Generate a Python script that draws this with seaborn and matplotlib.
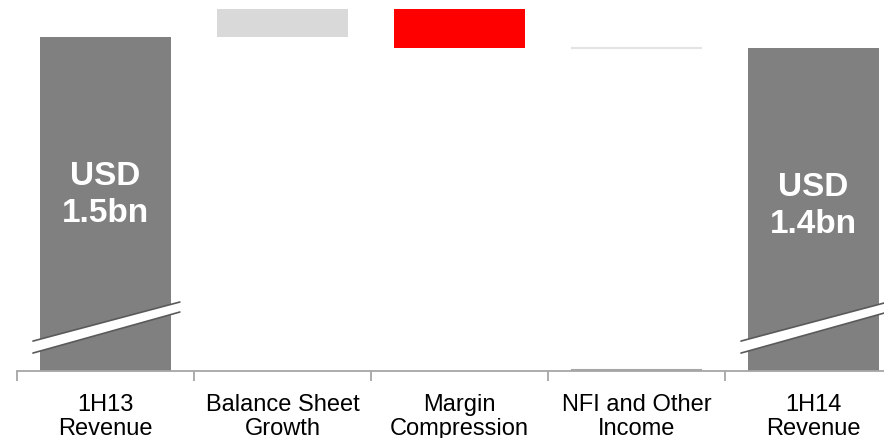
import numpy as np
import pandas as pd
import matplotlib
matplotlib.use("Agg")
import matplotlib.pyplot as plt
import seaborn as sns

# Waterfall data (USD bn)
categories = ["1H13\nRevenue", "Balance Sheet\nGrowth", "Margin\nCompression",
              "NFI and Other\nIncome", "1H14\nRevenue"]
start_total = 1.5
changes = [0.25, -0.35, 0.0]
end_total = 1.4
total_labels = ["USD\n1.5bn", "USD\n1.4bn"]
colors = ["#808080", "#D9D9D9", "#FF0000", "#E3E3E3", "#808080"]

# axis is broken: totals are drawn from this floor
floor = -1.536
top = 1.845

# build bar table
bottoms, heights = [], []
bottoms.append(floor); heights.append(start_total - floor)
level = start_total
for c in changes:
    bottoms.append(min(level, level + c))
    heights.append(abs(c))
    level += c
bottoms.append(floor); heights.append(end_total - floor)
df = pd.DataFrame({"category": categories, "bottom": bottoms,
                   "height": heights, "color": colors})

sns.set_theme(style="white")
plt.rcParams["font.family"] = ["Liberation Sans", "DejaVu Sans"]

fig = plt.figure(figsize=(8.84, 4.39), dpi=100)
ax = fig.add_axes([17 / 884, 67 / 439, 867 / 884, 372 / 439])

x = np.arange(len(df))
width = 0.74
ax.bar(x, df["height"], bottom=df["bottom"], width=width,
       color=df["color"], linewidth=0, zorder=2)

# zero-height NFI bar shows as a thin line, plus its base edge
nfi = 3
ax.hlines(start_total + sum(changes[:2]), nfi - width / 2, nfi + width / 2,
          color="#E3E3E3", lw=1.5, zorder=3)
ax.hlines(floor + 0.006, nfi - width / 2, nfi + width / 2,
          color="#A6A6A6", lw=1.5, zorder=3)

# axis break marks on total bars
for i in (0, 4):
    xs = [i - 0.41, i + 0.42, i + 0.42, i - 0.41]
    y_lo = [-1.373, -1.0]
    y_hi = [-1.264, -0.909]
    ax.fill(xs, [y_lo[0], y_lo[1], y_hi[1], y_hi[0]], color="white",
            lw=0, zorder=4)
    ax.plot([xs[0], xs[1]], y_lo, color="#5A5A5A", lw=1.2, zorder=5)
    ax.plot([xs[0], xs[1]], [y_hi[0], y_hi[1]], color="#5A5A5A", lw=1.2,
            zorder=5)

# total labels inside bars
for i, val, lab in [(0, start_total, total_labels[0]),
                    (4, end_total, total_labels[1])]:
    ax.text(i, val - 1.43, lab, ha="center", va="center", color="white",
            fontsize=24, fontweight="bold", linespacing=1.25, zorder=6)

for s in ["top", "right", "left"]:
    ax.spines[s].set_visible(False)
ax.spines["bottom"].set_color("#A6A6A6")
ax.spines["bottom"].set_linewidth(1.3)
ax.set_yticks([])
ax.set_xticks(x)
ax.set_xticklabels(df["category"], fontsize=17, linespacing=1.12,
                   color="black")
ax.set_xticks(np.arange(-0.5, 5, 1), minor=True)
ax.tick_params(axis="x", which="major", length=0, pad=16)
ax.tick_params(axis="x", which="minor", length=7, width=1.3,
               color="#A6A6A6", bottom=True)
ax.set_xlim(-0.5, 4.398)
ax.set_ylim(floor, top)

fig.savefig("out.png", dpi=100)
